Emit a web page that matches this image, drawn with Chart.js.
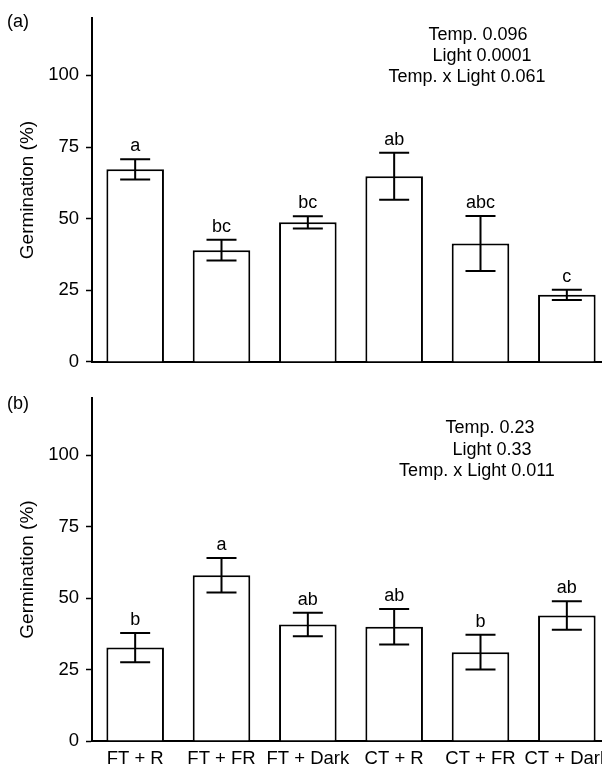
<!DOCTYPE html>
<html>
<head>
<meta charset="utf-8">
<script src="https://cdn.jsdelivr.net/npm/chart.js@4.4.1/dist/chart.umd.min.js"></script>
<style>
  html, body { margin:0; padding:0; background:#fff; overflow:hidden; width:602px; height:775px; }
  .panel { position:absolute; left:0; }
  canvas { display:block; }
</style>
</head>
<body>
<div class="panel" style="top:0px"><canvas id="ca" width="660" height="380" style="width:660px;height:380px"></canvas></div>
<div class="panel" style="top:380px"><canvas id="cb" width="660" height="395" style="width:660px;height:395px"></canvas></div>
<script>
// ---- data ----
const categories = ['FT + R', 'FT + FR', 'FT + Dark', 'CT + R', 'CT + FR', 'CT + Dark'];

const meanA = [67.2, 39.0, 48.7, 64.8, 41.3, 23.4];
const errA = [3.5, 3.6, 2.1, 8.2, 9.6, 1.8];
const lettersA = ['a', 'bc', 'bc', 'ab', 'abc', 'c'];
const statsA = ['Temp. 0.096', 'Light 0.0001', 'Temp. x Light 0.061'];

const meanB = [32.7, 58.0, 40.8, 40.0, 31.1, 43.9];
const errB = [5.1, 6.0, 4.1, 6.2, 6.1, 5.0];
const lettersB = ['b', 'a', 'ab', 'ab', 'b', 'ab'];
const statsB = ['Temp. 0.23', 'Light 0.33', 'Temp. x Light 0.011'];

const yMin = 0, yMax = 120, yStep = 25;
const yTitle = 'Germination (%)';

// ---- style / layout ----
const FONT = '"Liberation Sans", Arial, Helvetica, sans-serif';
const FS_TICK = 18.5;
const FS_TITLE = 19;
const FS_TEXT = 18;

const overlayPlugin = {
  id: 'overlay',
  afterDatasetsDraw(chart, args, opts) {
    const ctx = chart.ctx;
    const y = chart.scales.y;
    const meta = chart.getDatasetMeta(0);
    const means = chart.data.datasets[0].data;
    const errs = opts.errors;
    ctx.save();
    ctx.strokeStyle = '#000';
    ctx.lineWidth = 2;
    ctx.fillStyle = '#000';
    ctx.font = FS_TEXT + 'px ' + FONT;
    ctx.textAlign = 'center';
    ctx.textBaseline = 'alphabetic';
    meta.data.forEach((bar, i) => {
      const x = bar.x;
      const yt = y.getPixelForValue(means[i] + errs[i]);
      const yb = y.getPixelForValue(means[i] - errs[i]);
      ctx.beginPath();
      ctx.moveTo(x, yt); ctx.lineTo(x, yb);
      ctx.moveTo(x - 15, yt); ctx.lineTo(x + 15, yt);
      ctx.moveTo(x - 15, yb); ctx.lineTo(x + 15, yb);
      ctx.stroke();
      ctx.fillText(opts.letters[i], x, yt - 8);
    });
    // stats text
    ctx.textBaseline = 'middle';
    opts.stats.forEach((s, k) => {
      const p = opts.statsPos[k];
      ctx.fillText(s, p[0], p[1]);
    });
    // panel label
    ctx.textAlign = 'left';
    ctx.fillText(opts.panel, 7, opts.panelY);
    ctx.restore();
  }
};

function makeChart(id, means, errs, letters, stats, statsPos, panel, panelY, showX, xHeight) {
  return new Chart(document.getElementById(id), {
    type: 'bar',
    data: {
      labels: categories,
      datasets: [{
        data: means,
        backgroundColor: '#fff',
        borderColor: '#000',
        borderWidth: 2,
        barPercentage: 0.667,
        categoryPercentage: 1.0
      }]
    },
    options: {
      responsive: false,
      animation: false,
      devicePixelRatio: 1,
      layout: { padding: { top: 15, right: 50, left: 0, bottom: 0 } },
      plugins: {
        legend: { display: false },
        tooltip: { enabled: false },
        overlay: { errors: errs, letters: letters, stats: stats, statsPos: statsPos, panel: panel, panelY: panelY }
      },
      scales: {
        x: {
          afterFit(s) { s.height = xHeight; },
          grid: { display: true, drawOnChartArea: false, drawTicks: false },
          border: { display: true, color: '#000', width: 2 },
          ticks: { display: showX, color: '#000', padding: 7, maxRotation: 0, autoSkip: false, font: { family: FONT, size: FS_TICK } }
        },
        y: {
          min: yMin, max: yMax,
          afterFit(s) { s.width = 92; },
          grid: { display: true, drawOnChartArea: false, drawTicks: true, tickLength: 6, tickWidth: 1.5, tickColor: '#000' },
          border: { display: true, color: '#000', width: 2 },
          ticks: { stepSize: yStep, includeBounds: false, color: '#000', padding: 7, font: { family: FONT, size: FS_TICK } },
          title: { display: true, text: yTitle, color: '#000', padding: { top: 16, bottom: 0 }, font: { family: FONT, size: FS_TITLE, lineHeight: 1.2 } }
        }
      }
    },
    plugins: [overlayPlugin]
  });
}

makeChart('ca', meanA, errA, lettersA, statsA, [[478, 35], [482, 56], [467, 77]], '(a)', 22, false, 18);
makeChart('cb', meanB, errB, lettersB, statsB, [[490, 48], [492, 70], [477, 91]], '(b)', 24, true, 34);
</script>
</body>
</html>
